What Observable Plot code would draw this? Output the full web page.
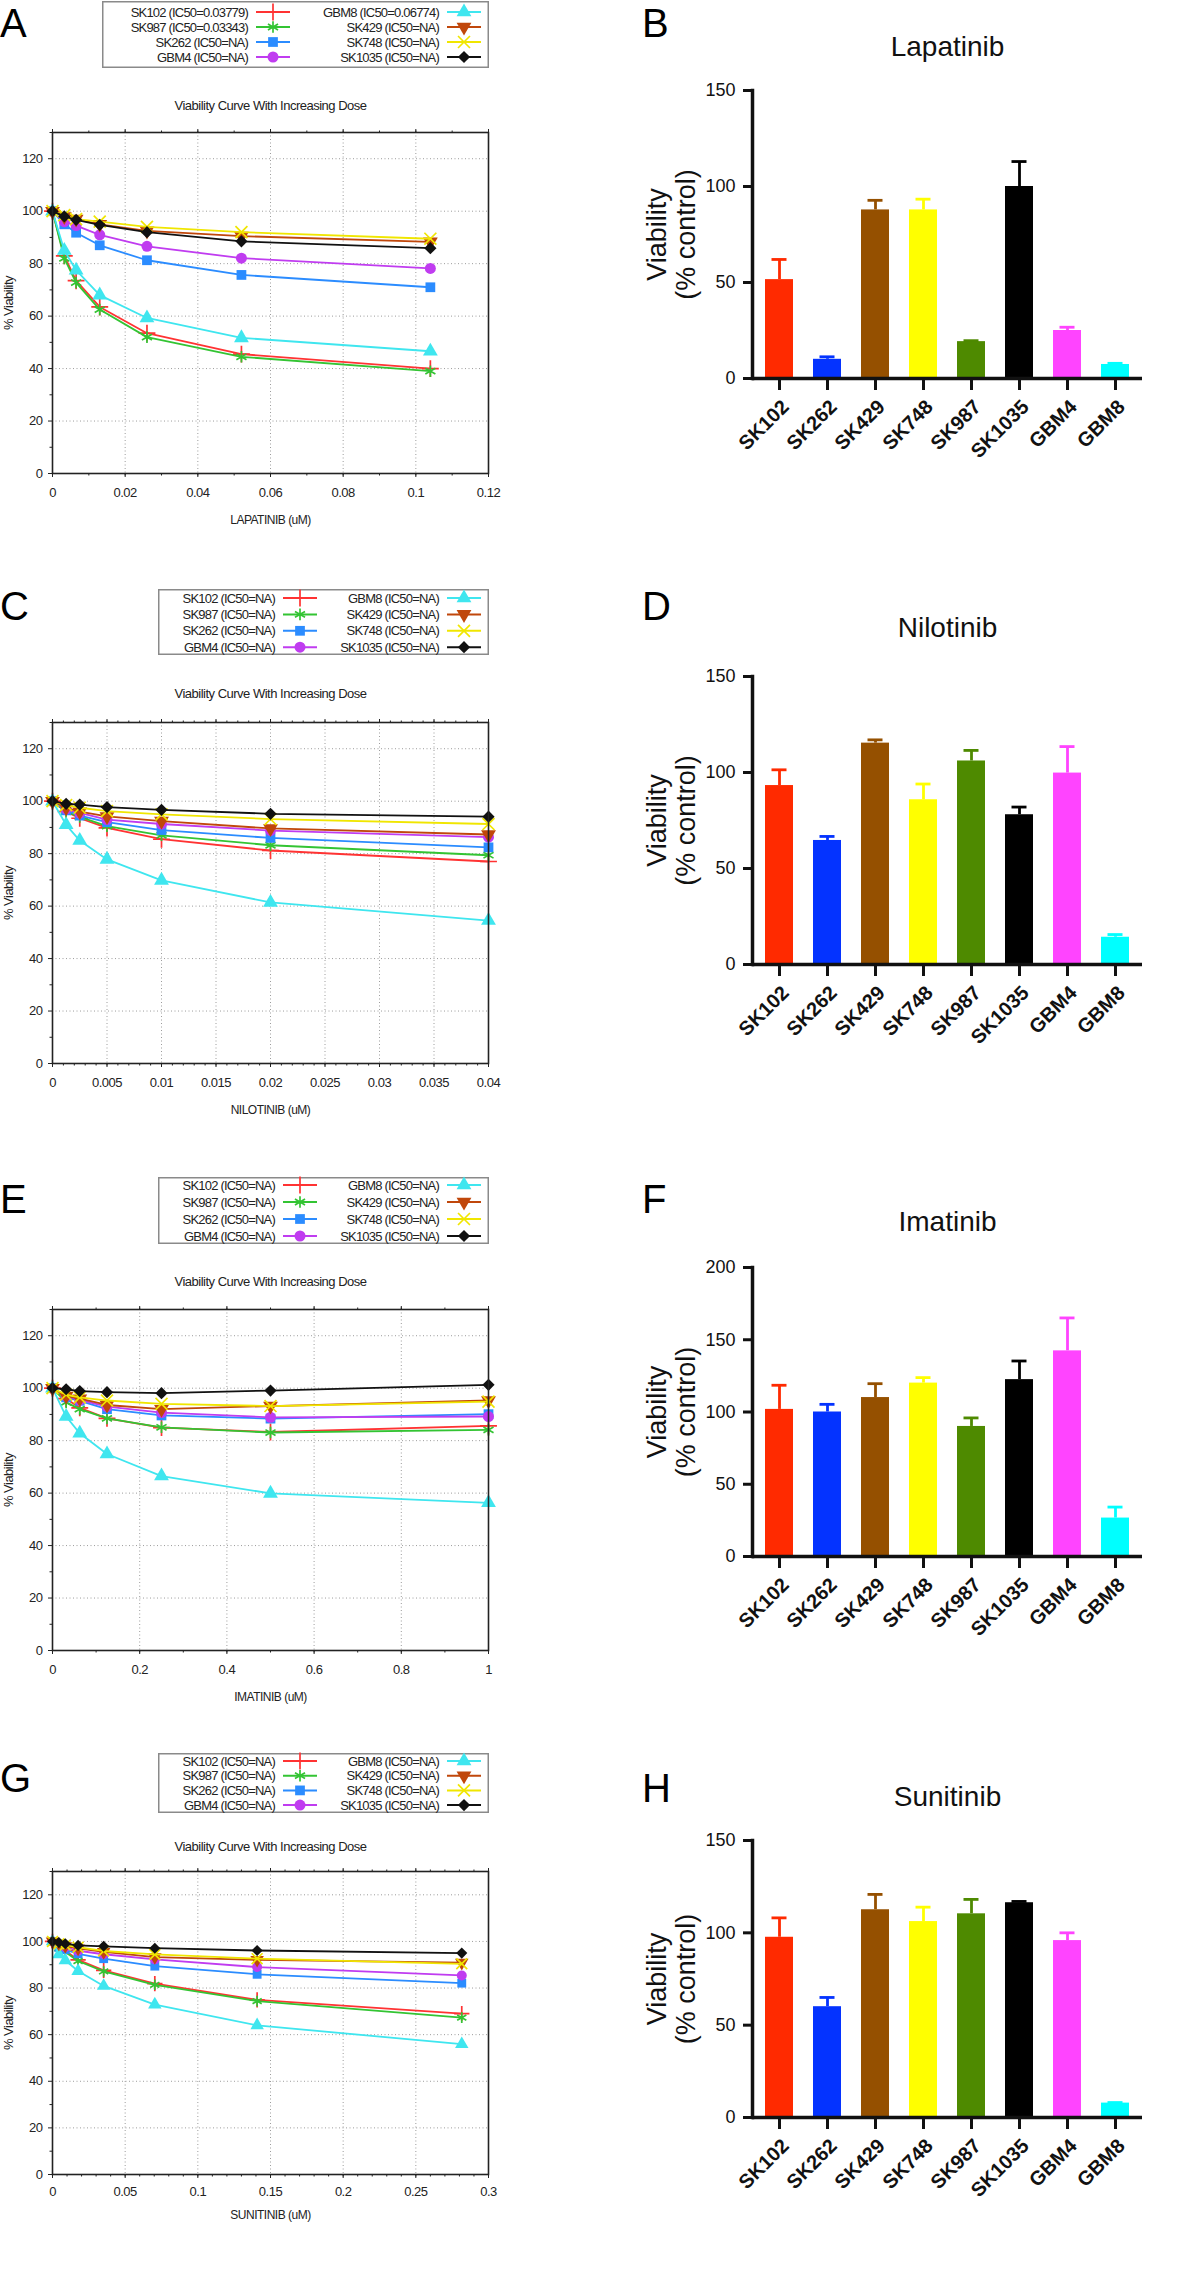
<!DOCTYPE html>
<html><head><meta charset="utf-8">
<script src="https://cdn.jsdelivr.net/npm/d3@7"></script>
<script src="https://cdn.jsdelivr.net/npm/@observablehq/plot@0.6"></script>
<style>
html,body{margin:0;padding:0;background:#fff;}
#page{position:relative;width:1200px;height:2287px;overflow:hidden;font-family:"Liberation Sans",Arial,sans-serif;}
.letter{position:absolute;font-size:40px;line-height:40px;color:#000;font-family:"Liberation Sans",Arial,sans-serif;}
</style></head><body><div id="page"></div>
<script>
// ---------- bar chart data ----------
const cellLines = ["SK102","SK262","SK429","SK748","SK987","SK1035","GBM4","GBM8"];
const barColors = ["#ff2a00","#0433ff","#955000","#ffff00","#4e8a00","#000000","#ff44ff","#00ffff"];

const lapatinibMean = [51.5, 10, 87.8, 87.8, 19.2, 100, 25, 7.3];
const lapatinibSem  = [10.5, 1.3, 5, 5.6, 0.5, 13, 1.7, 0.6];
const nilotinibMean = [93.2, 64.6, 115.3, 85.8, 106, 78, 99.7, 14.2];
const nilotinibSem  = [8.2, 2.1, 1.7, 8.2, 5.5, 4, 13.8, 1.4];
const imatinibMean  = [101.8, 100, 110, 120, 90, 122.4, 142.3, 26.6];
const imatinibSem   = [16.7, 5.3, 9.6, 3.8, 5.9, 12.9, 22.8, 7.6];
const sunitinibMean = [97.6, 60, 112.5, 106.1, 110.3, 116.3, 95.8, 7.8];
const sunitinibSem  = [10.5, 5, 8.3, 7.8, 7.8, 0.7, 4.2, 0.3];

// ---------- dose-response curve data ----------
const curveSeries = ["SK102","SK987","SK262","GBM4","GBM8","SK429","SK748","SK1035"];
const curveColors = ["#ff3333","#33c433","#2b8cff","#c03cf0","#3fe6ef","#c0470b","#f0e600","#111111"];

const lapatinibDose = [0, 0.00325, 0.0065, 0.013, 0.026, 0.052, 0.104];
const lapatinibCurves = [
  [100, 83, 73.5, 63.5, 53.5, 45.5, 40],
  [100, 82, 72.8, 62.5, 52, 44.5, 39],
  [100, 95, 91.8, 87, 81.3, 75.7, 71],
  [100, 96, 94.5, 91, 86.6, 82.1, 78.2],
  [100, 85, 77.5, 68, 59.3, 51.7, 46.6],
  [100, 98, 97, 95, 92.5, 90.5, 88.3],
  [100, 98.5, 97, 96, 94, 92, 89.5],
  [100, 98, 96.7, 94.8, 92, 88.5, 85.9]
];
const nilotinibDose = [0, 0.00125, 0.0025, 0.005, 0.01, 0.02, 0.04];
const nilotinibCurves = [
  [100, 96, 93.5, 89.8, 85.5, 81.2, 77],
  [100, 96, 94, 90.5, 87, 83.2, 79.4],
  [100, 96.5, 94.5, 92, 89, 86, 82.4],
  [100, 97, 95.5, 93, 91.3, 88.8, 86.3],
  [100, 91, 85, 77.8, 69.8, 61.4, 54.5],
  [100, 97.5, 96, 94.2, 92.4, 89.6, 87.3],
  [100, 98.5, 97.5, 96.2, 95, 93.2, 91.3],
  [100, 99, 98.7, 97.7, 96.7, 95.2, 94.1]
];
const imatinibDose = [0, 0.03125, 0.0625, 0.125, 0.25, 0.5, 1];
const imatinibCurves = [
  [100, 96, 92.5, 88.5, 85, 83.3, 85.6],
  [100, 94.6, 92, 88.5, 85.1, 83.1, 84.1],
  [100, 96.5, 95.2, 92, 89.6, 88.4, 90.1],
  [100, 97, 95.5, 93, 90.7, 88.9, 89.2],
  [100, 89.2, 82.8, 74.9, 66.5, 59.9, 56.3],
  [100, 97, 96, 93.6, 92, 93.2, 95.3],
  [100, 97.5, 96.5, 95.3, 94, 93.2, 94.9],
  [100, 99.6, 98.9, 98.5, 98.1, 99.1, 101.3]
];
const sunitinibDose = [0, 0.0044, 0.0088, 0.0176, 0.0352, 0.0704, 0.1408, 0.2816];
const sunitinibCurves = [
  [100, 97.5, 96, 92.1, 87.6, 81.9, 74.9, 69],
  [100, 97, 95.5, 91.6, 87.1, 81.4, 74.4, 67.3],
  [100, 97.5, 96.5, 94.7, 92.6, 89.4, 85.9, 82.1],
  [100, 98.5, 97.5, 96, 94.5, 92.3, 89, 85.4],
  [100, 94.4, 91.9, 87.3, 80.9, 72.9, 64, 55.9],
  [100, 99, 98, 97, 95.5, 93.3, 92.1, 90.9],
  [100, 99, 98.5, 97.5, 95.9, 94.4, 92.6, 90.4],
  [100, 99.5, 99, 98.3, 97.9, 97.1, 96.1, 95]
];

// tick values
const curveYTicks = [0, 20, 40, 60, 80, 100, 120];
const curveYMinor = [10, 30, 50, 70, 90, 110, 130];
const lapatinibXTicks = [0, 0.02, 0.04, 0.06, 0.08, 0.1, 0.12];
const nilotinibXTicks = [0, 0.005, 0.01, 0.015, 0.02, 0.025, 0.03, 0.035, 0.04];
const imatinibXTicks = [0, 0.2, 0.4, 0.6, 0.8, 1];
const sunitinibXTicks = [0, 0.05, 0.1, 0.15, 0.2, 0.25, 0.3];

const legendLabelsA = ["SK102 (IC50=0.03779)","SK987 (IC50=0.03343)","SK262 (IC50=NA)","GBM4 (IC50=NA)","GBM8 (IC50=0.06774)","SK429 (IC50=NA)","SK748 (IC50=NA)","SK1035 (IC50=NA)"];
const legendLabelsNA = ["SK102 (IC50=NA)","SK987 (IC50=NA)","SK262 (IC50=NA)","GBM4 (IC50=NA)","GBM8 (IC50=NA)","SK429 (IC50=NA)","SK748 (IC50=NA)","SK1035 (IC50=NA)"];

// ---------- symbols ----------
const symbolTriangleDown = {
  draw(context, size) {
    const y = -Math.sqrt(size / (Math.sqrt(3) * 3));
    context.moveTo(0, -y * 2);
    context.lineTo(-Math.sqrt(3) * y, y);
    context.lineTo(Math.sqrt(3) * y, y);
    context.closePath();
  }
};
const curveSymbols = [d3.symbolPlus, d3.symbolAsterisk, d3.symbolSquare, d3.symbolCircle, d3.symbolTriangle, symbolTriangleDown, d3.symbolTimes, d3.symbolDiamond2];
const strokeSymbol = [true, true, false, false, false, false, true, false];

const page = document.getElementById("page");

function place(node, left, top) {
  node.style.position = "absolute";
  node.style.left = left + "px";
  node.style.top = top + "px";
  page.appendChild(node);
}

function range(a, b, s) { const out = []; for (let v = a; v <= b + s / 1000; v += s) out.push(+v.toFixed(6)); return out; }

function curvePanel({dose, curves, xDomain, xTicks, xMinorStep, xLabel, frameTop, frameH, titleGap, tickPad, labelGap, r}) {
  const xMinor = range(xDomain[0], xDomain[1], xMinorStep);
  const marks = [
    Plot.gridX(xTicks, {stroke: "#9c9c9c", strokeOpacity: 1, strokeDasharray: "1,2.5"}),
    Plot.gridY(curveYTicks, {stroke: "#9c9c9c", strokeOpacity: 1, strokeDasharray: "1,2.5"}),
    Plot.axisY(curveYMinor, {tickSize: 2.5, fill: "none", label: null}),
    Plot.axisY(curveYTicks, {tickSize: 4, tickPadding: 6, label: null, fontSize: 13}),
    Plot.axisX(xMinor, {anchor: "bottom", tickSize: 2.5, fill: "none", label: null}),
    Plot.axisX(xTicks, {anchor: "bottom", tickSize: 4, tickPadding: tickPad, label: null, fontSize: 13, tickFormat: d3.format("~g")}),
    Plot.axisX(xMinor, {anchor: "top", tickSize: 2.5, fill: "none", label: null}),
    Plot.axisX(xTicks, {anchor: "top", tickSize: 4, fill: "none", label: null})
  ];
  curveSeries.forEach((s, i) => {
    const pts = dose.map((d, j) => ({dose: d, v: curves[i][j]}));
    marks.push(Plot.line(pts, {x: "dose", y: "v", stroke: curveColors[i], strokeWidth: 1.8}));
    marks.push(Plot.dot(pts, {x: "dose", y: "v", symbol: curveSymbols[i], r,
      fill: strokeSymbol[i] ? "none" : curveColors[i],
      stroke: strokeSymbol[i] ? curveColors[i] : "none", strokeWidth: 1.7}));
  });
  marks.push(Plot.frame({stroke: "#222", strokeWidth: 1.6}));
  marks.push(Plot.text(["Viability Curve With Increasing Dose"], {frameAnchor: "top", lineAnchor: "middle", textAnchor: "middle", dy: -titleGap, fontSize: 13, fill: "#222"}));
  marks.push(Plot.text([xLabel], {frameAnchor: "bottom", lineAnchor: "middle", textAnchor: "middle", dy: labelGap, fontSize: 12, fill: "#222"}));
  marks.push(Plot.text(["% Viability"], {frameAnchor: "left", lineAnchor: "middle", textAnchor: "middle", dx: -44, rotate: -90, fontSize: 13, fill: "#222"}));
  const chart = Plot.plot({
    width: 500, height: 40 + frameH + 60,
    marginLeft: 52, marginRight: 12, marginTop: 40, marginBottom: 60,
    x: {domain: xDomain}, y: {domain: [0, 130]},
    style: {background: "transparent", overflow: "visible", fontFamily: "Liberation Sans, Arial, sans-serif", fontSize: "13px", letterSpacing: "-0.5px", color: "#222"},
    marks
  });
  place(chart, 0, frameTop - 40);
}

function drawLegend({left, top, width, height, y0, step, leftEnd, rightEnd, labels}) {
  const svg = d3.create("svg").attr("width", width).attr("height", height).style("overflow", "visible");
  svg.append("rect").attr("x", 0.75).attr("y", 0.75).attr("width", width - 1.5).attr("height", height - 1.5)
    .attr("fill", "#fff").attr("stroke", "#8a8a8a").attr("stroke-width", 1.5);
  curveSeries.forEach((s, i) => {
    const col = i < 4 ? 0 : 1, row = i % 4;
    const xe = col ? rightEnd : leftEnd, y = y0 + row * step;
    svg.append("text").attr("x", xe).attr("y", y).attr("dy", "0.36em").attr("text-anchor", "end")
      .attr("font-size", 13).attr("letter-spacing", "-0.8px").attr("fill", "#222")
      .attr("font-family", "Liberation Sans, Arial, sans-serif").text(labels[i]);
    svg.append("line").attr("x1", xe + 8).attr("x2", xe + 42).attr("y1", y).attr("y2", y)
      .attr("stroke", curveColors[i]).attr("stroke-width", 2);
    svg.append("path").attr("transform", `translate(${xe + 25},${y})`)
      .attr("d", d3.symbol(curveSymbols[i], 95)())
      .attr("fill", strokeSymbol[i] ? "none" : curveColors[i])
      .attr("stroke", strokeSymbol[i] ? curveColors[i] : "none").attr("stroke-width", 1.7);
  });
  place(svg.node(), left, top);
}

function barPanel({title, mean, sem, yDomain, yTicks, axisTop, plotH, titleGap}) {
  const data = cellLines.map((c, i) => ({line: c, mean: mean[i], tip: mean[i] + sem[i], color: barColors[i]}));
  const chart = Plot.plot({
    width: 580, height: 60 + plotH + 110,
    marginLeft: 132, marginRight: 58, marginTop: 60, marginBottom: 110,
    x: {domain: cellLines, paddingInner: 0.42, paddingOuter: 0.21},
    y: {domain: yDomain},
    color: {type: "identity"},
    style: {background: "transparent", overflow: "visible", fontFamily: "Liberation Sans, Arial, sans-serif", fontSize: "18px", color: "#111"},
    marks: [
      Plot.ruleX(data, {x: "line", y1: "mean", y2: "tip", stroke: "color", strokeWidth: 2.8}),
      Plot.tickY(data, {x: "line", y: "tip", stroke: "color", strokeWidth: 2.8, insetLeft: 6.5, insetRight: 6.5}),
      Plot.barY(data, {x: "line", y: "mean", fill: "color"}),
      Plot.ruleY([0], {strokeWidth: 3.5, stroke: "#111"}),
      Plot.frame({anchor: "left", strokeWidth: 3.5, stroke: "#111"}),
      Plot.axisY(yTicks, {tickSize: 9, tickPadding: 8, strokeWidth: 3, label: null, fontSize: 18}),
      Plot.axisX({tickSize: 12, strokeWidth: 3, fill: "none", label: null}),
      Plot.axisX({tickSize: 0, tickPadding: 25, dx: 6, tickRotate: -45, label: null, fontSize: 20, fontWeight: "bold"}),
      Plot.text([title], {frameAnchor: "top", lineAnchor: "middle", textAnchor: "middle", dy: -titleGap, fontSize: 28}),
      Plot.text(["Viability\n(% control)"], {frameAnchor: "left", lineAnchor: "middle", textAnchor: "middle", dx: -81, rotate: -90, fontSize: 27, lineHeight: 1.04})
    ]
  });
  place(chart, 620, axisTop - 60);
}

function letter(t, left, top) {
  const d = document.createElement("div");
  d.className = "letter";
  d.textContent = t;
  d.style.left = left + "px";
  d.style.top = top + "px";
  page.appendChild(d);
}

// ---------- left column: dose-response curves ----------
curvePanel({dose: lapatinibDose, curves: lapatinibCurves, xDomain: [0, 0.12], xTicks: lapatinibXTicks, xMinorStep: 0.01,
  xLabel: "LAPATINIB (uM)", frameTop: 132, frameH: 341, titleGap: 27, tickPad: 10, labelGap: 47, r: 5.5});
curvePanel({dose: nilotinibDose, curves: nilotinibCurves, xDomain: [0, 0.04], xTicks: nilotinibXTicks, xMinorStep: 0.001,
  xLabel: "NILOTINIB (uM)", frameTop: 722, frameH: 341, titleGap: 29, tickPad: 10, labelGap: 47, r: 5.5});
curvePanel({dose: imatinibDose, curves: imatinibCurves, xDomain: [0, 1], xTicks: imatinibXTicks, xMinorStep: 0.1,
  xLabel: "IMATINIB (uM)", frameTop: 1309, frameH: 341, titleGap: 28, tickPad: 10, labelGap: 47, r: 5.5});
curvePanel({dose: sunitinibDose, curves: sunitinibCurves, xDomain: [0, 0.3], xTicks: sunitinibXTicks, xMinorStep: 0.01,
  xLabel: "SUNITINIB (uM)", frameTop: 1871, frameH: 303, titleGap: 25, tickPad: 8, labelGap: 41, r: 5});

drawLegend({left: 102, top: 1, width: 387, height: 67, y0: 11, step: 15, leftEnd: 146, rightEnd: 337, labels: legendLabelsA});
drawLegend({left: 158, top: 589, width: 331, height: 66, y0: 9, step: 16.4, leftEnd: 117, rightEnd: 281, labels: legendLabelsNA});
drawLegend({left: 158, top: 1177, width: 331, height: 67, y0: 8, step: 17, leftEnd: 117, rightEnd: 281, labels: legendLabelsNA});
drawLegend({left: 158, top: 1753, width: 331, height: 60, y0: 8, step: 14.7, leftEnd: 117, rightEnd: 281, labels: legendLabelsNA});

// ---------- right column: bar charts ----------
barPanel({title: "Lapatinib", mean: lapatinibMean, sem: lapatinibSem, yDomain: [0, 150], yTicks: [0, 50, 100, 150], axisTop: 90, plotH: 288, titleGap: 43});
barPanel({title: "Nilotinib", mean: nilotinibMean, sem: nilotinibSem, yDomain: [0, 150], yTicks: [0, 50, 100, 150], axisTop: 676, plotH: 288, titleGap: 48});
barPanel({title: "Imatinib", mean: imatinibMean, sem: imatinibSem, yDomain: [0, 200], yTicks: [0, 50, 100, 150, 200], axisTop: 1267, plotH: 289, titleGap: 45});
barPanel({title: "Sunitinib", mean: sunitinibMean, sem: sunitinibSem, yDomain: [0, 150], yTicks: [0, 50, 100, 150], axisTop: 1840, plotH: 277, titleGap: 43});

// ---------- panel letters ----------
letter("A", 0, 3); letter("B", 642, 3);
letter("C", 0, 586); letter("D", 642, 586);
letter("E", 0, 1179); letter("F", 642, 1179);
letter("G", 0, 1758); letter("H", 642, 1768);
</script></body></html>
